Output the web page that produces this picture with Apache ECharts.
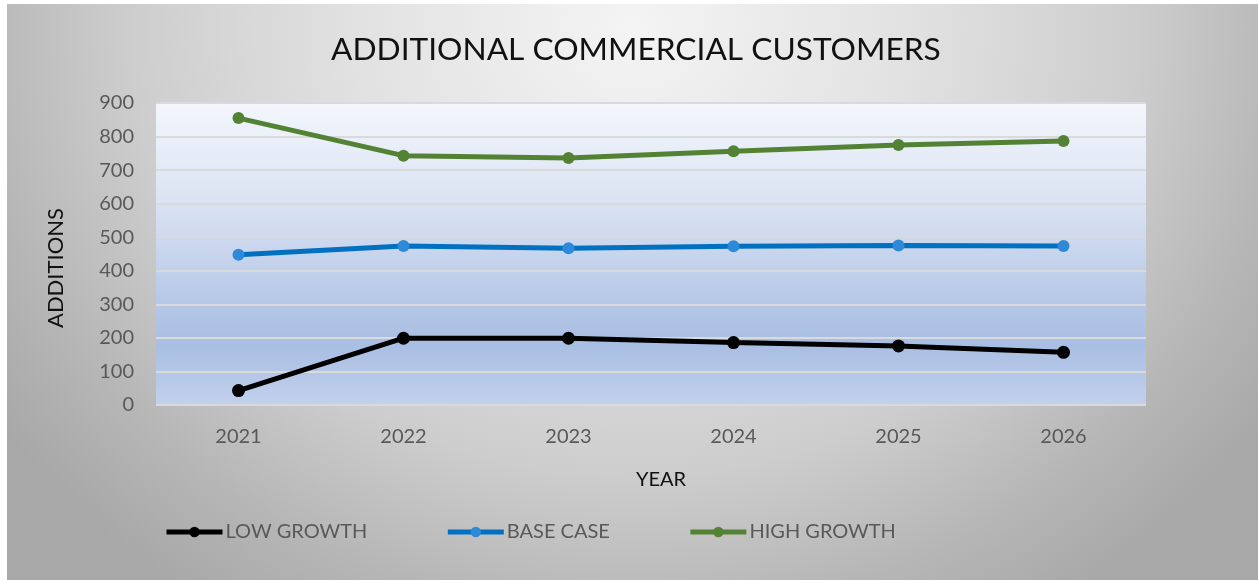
<!DOCTYPE html>
<html>
<head>
<meta charset="utf-8">
<script src="https://cdn.jsdelivr.net/npm/echarts@6/dist/echarts.min.js"></script>
<style>
  html, body { margin: 0; padding: 0; background: #ffffff; }
  #wrap { position: relative; width: 1259px; height: 584px; overflow: hidden; }
  #card {
    position: absolute; left: 7px; top: 4px; width: 1251px; height: 576px;
    background: radial-gradient(ellipse 62% 120% at 50% 4%, #f4f4f4 0%, #e2e2e2 35%, #cdcdcd 65%, #b6b6b6 85%, #a8a8a8 100%);
  }
  #chart { position: absolute; left: 0; top: 0; width: 1259px; height: 584px; }
</style>
</head>
<body>
<div id="wrap">
  <div id="card"></div>
  <div id="chart"></div>
</div>
<script>
// Years on the category axis
const years = ['2021', '2022', '2023', '2024', '2025', '2026'];

// Projected additional commercial customers per scenario
const lowGrowth = [43, 199, 199, 186, 176, 157];
const baseCase = [448, 474, 467, 473, 475, 474];
const highGrowth = [855, 743, 736, 756, 775, 787];

// Value axis ticks
const yTicks = [0, 100, 200, 300, 400, 500, 600, 700, 800, 900];

const FONT = 'Lato';
const chart = echarts.init(document.getElementById('chart'), null, { renderer: 'canvas' });

function lineSeries(name, data, lineColor, markColor, size) {
  return {
    name: name,
    type: 'line',
    data: data,
    symbol: 'circle',
    symbolSize: size,
    lineStyle: { color: lineColor, width: 5 },
    itemStyle: { color: markColor, borderWidth: 0 },
    emphasis: { disabled: true },
    animation: false
  };
}

chart.setOption({
  backgroundColor: 'transparent',
  animation: false,
  title: {
    text: 'ADDITIONAL COMMERCIAL CUSTOMERS',
    left: 326,
    top: 29,
    textStyle: { fontFamily: FONT, fontSize: 31.7, fontWeight: 'normal', color: '#111111' }
  },
  grid: {
    left: 156, right: 113, top: 103, bottom: 179,
    show: true,
    borderWidth: 0,
    backgroundColor: new echarts.graphic.LinearGradient(0, 0, 0, 1, [
      { offset: 0, color: '#f3f6fc' },
      { offset: 0.3, color: '#dde5f4' },
      { offset: 0.6, color: '#bccce9' },
      { offset: 0.8, color: '#a9bee3' },
      { offset: 1, color: '#c2d1ec' }
    ])
  },
  legend: {
    left: 159,
    top: 517,
    itemWidth: 56,
    itemHeight: 13,
    itemGap: 78,
    lineStyle: { width: 5 },
    textStyle: { fontFamily: FONT, fontSize: 20, color: '#595959', padding: [0, 0, 0, -2] },
    data: ['LOW GROWTH', 'BASE CASE', 'HIGH GROWTH']
  },
  xAxis: {
    type: 'category',
    data: years,
    boundaryGap: true,
    name: 'YEAR',
    nameLocation: 'middle',
    nameGap: 65,
    nameTextStyle: { fontFamily: FONT, fontSize: 20, color: '#111111', padding: [0, 0, 0, 20] },
    axisLine: { show: false },
    axisTick: { show: false },
    axisLabel: { fontFamily: FONT, fontSize: 20, color: '#595959', margin: 22 }
  },
  yAxis: {
    type: 'value',
    min: yTicks[0],
    max: yTicks[yTicks.length - 1],
    interval: yTicks[1] - yTicks[0],
    name: 'ADDITIONS',
    nameLocation: 'middle',
    nameRotate: 90,
    nameGap: 89,
    nameTextStyle: { fontFamily: FONT, fontSize: 22, color: '#111111', padding: [0, 28, 0, 0] },
    axisLine: { show: false },
    axisTick: { show: false },
    axisLabel: { fontFamily: FONT, fontSize: 20, color: '#595959', margin: 22 },
    splitLine: { show: true, lineStyle: { color: '#dadada', width: 2 } }
  },
  series: [
    lineSeries('LOW GROWTH', lowGrowth, '#000000', '#000000', 13),
    lineSeries('BASE CASE', baseCase, '#0070c0', '#2e8ad6', 12),
    lineSeries('HIGH GROWTH', highGrowth, '#548235', '#548235', 12)
  ]
});
</script>
</body>
</html>
